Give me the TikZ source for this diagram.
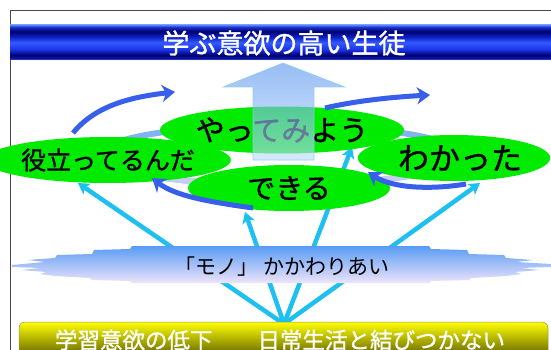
\documentclass[tikz,border=0pt]{standalone}
\usepackage{fontspec}
\newfontfamily\jp{Noto Sans CJK JP}
\newfontfamily\jpb[FakeBold=1.2]{Noto Sans CJK JP}
\usetikzlibrary{shapes.geometric,arrows.meta}
\definecolor{framegray}{RGB}{70,70,70}
\definecolor{bubgreen}{RGB}{0,235,0}
\definecolor{cyanline}{RGB}{30,192,242}
\definecolor{royal}{RGB}{55,95,235}
\definecolor{ringblue}{RGB}{130,178,242}
\definecolor{ringlav}{RGB}{200,204,242}
\definecolor{cloudtop}{RGB}{88,155,245}
\definecolor{cloudbot}{RGB}{238,228,250}
\definecolor{baryellow}{RGB}{255,255,0}
\definecolor{barolive}{RGB}{70,70,0}
\definecolor{uptop}{RGB}{90,150,240}
\definecolor{upbot}{RGB}{190,222,250}
\definecolor{upedge}{RGB}{140,205,245}
\pgfdeclareverticalshading{bannershade}{100bp}{rgb(0bp)=(0.3,0.4,0.9); rgb(25bp)=(0.3,0.4,0.9); rgb(27bp)=(0.05,0.1,0.65); rgb(32bp)=(0,0,0.45); rgb(40bp)=(0.1,0.2,0.9); rgb(50bp)=(0.2,0.35,1); rgb(58bp)=(0.05,0.12,0.75); rgb(66bp)=(0,0,0.45); rgb(72bp)=(0.1,0.2,0.8); rgb(75bp)=(0.35,0.5,1); rgb(100bp)=(0.35,0.5,1)}
\begin{document}
\begin{tikzpicture}[x=1pt,y=-1pt,
  frameline/.style={draw=framegray,line width=1pt},
  bub/.style={ellipse,fill=bubgreen,inner sep=0pt,text=black},
  cyanarrow/.style={draw=cyanline,line width=4.5pt,-{Stealth[length=11pt,width=13pt,inset=3pt]}},
  bluearrow/.style={draw=royal,line width=5pt,-{Stealth[length=13pt,width=17pt,inset=4pt]}},
  ringstyle/.style={line width=6pt}
]
\useasboundingbox (0,0) rectangle (551,350);
\clip (0,0) rectangle (551,350);
\fill[white] (0,0) rectangle (551,350);
% frame
\draw[frameline] (10,350) -- (10,11) -- (551,11);
% banner
\shade[shading=bannershade] (10,25) rectangle (551,60);
\node[text=white,font=\jpb\fontsize{27}{27}\selectfont] (title) at (284,43) {学ぶ意欲の高い生徒};
% cyan arrows
\coordinate (base) at (284,324);
\coordinate (t1) at (78,183);
\coordinate (t2) at (245,212);
\coordinate (t3) at (352,147);
\coordinate (t4) at (480,183);
\draw[cyanarrow] (base) -- (t1);
\draw[cyanarrow] (base) -- (t2);
\draw[cyanarrow] (base) -- (t3);
\draw[cyanarrow] (base) -- (t4);
% cloud band
\shade[top color=cloudtop,bottom color=cloudbot]
 (12,265) -- (45,262) -- (28,260) -- (55,258) -- (57,255) -- (92,254) -- (94,250) -- (130,249) -- (132,246) -- (429,246) -- (431,249) -- (467,250) -- (469,254) -- (504,255) -- (506,258) -- (533,260) -- (516,262) -- (551,264)
 -- (551,267) -- (520,268) -- (540,270) -- (515,272) -- (521,274) -- (506,276) -- (471,278) -- (469,280) -- (431,281) -- (429,283) -- (132,283) -- (130,281) -- (92,280) -- (90,278) -- (55,276) -- (40,274) -- (46,272) -- (21,270) -- (41,268) -- (12,267) -- cycle;
\node[text=black,font=\jp\fontsize{21}{21}\selectfont] (mono) at (282,267) {「モノ」 かかわりあい};
% bottom bar
\shade[rounded corners=6pt,top color=baryellow,bottom color=barolive,draw=barolive!60,line width=0.5pt] (19,322) rectangle (548,362);
\node[text=white,font=\jpb\fontsize{22.5}{22.5}\selectfont] (low) at (280,340) {学習意欲の低下　　日常生活と結びつかない};
% ring behind bubbles
\draw[ringstyle,draw=ringblue] (280,155) ellipse [x radius=180,y radius=30];
\draw[ringstyle,draw=ringlav] (460,155) arc[start angle=0,end angle=180,x radius=180,y radius=30];
% bubbles
\node[bub,minimum width=200pt,minimum height=46pt,font=\jpb\fontsize{25}{25}\selectfont] (yaku) at (108,160) {役立ってるんだ};
\node[bub,minimum width=190pt,minimum height=46pt,font=\jpb\fontsize{31}{31}\selectfont] (waka) at (454,158) {\hspace{12pt}わかった};
\node[bub,minimum width=198pt,minimum height=47pt,font=\jpb\fontsize{29}{29}\selectfont] (yatte) at (282,130) {やってみよう};
\node[bub,minimum width=202pt,minimum height=46pt,font=\jpb\fontsize{28}{28}\selectfont] (dekiru) at (289,188) {できる};
% big up arrow
\shade[top color=uptop,bottom color=upbot,fill opacity=0.62,draw=upedge,draw opacity=0.9,line width=0.6pt]
 (283,63) -- (345,87) -- (314,87) -- (314,160) -- (253,160) -- (253,87) -- (223,87) -- cycle;
% dark blue curved arrows
\coordinate (a1s) at (73,133);
\coordinate (a1e) at (175,92);
\coordinate (a2s) at (325,108);
\coordinate (a2e) at (430,95);
\coordinate (a3s) at (466,184);
\coordinate (a3e) at (368,172);
\coordinate (a4s) at (253,208);
\coordinate (a4e) at (152,178);
\draw[bluearrow] (a1s) .. controls (95,106) and (130,97) .. (a1e);
\draw[bluearrow] (a2s) .. controls (360,100) and (395,97) .. (a2e);
\draw[bluearrow] (a3s) .. controls (430,190) and (392,188) .. (a3e);
\draw[bluearrow] (a4s) .. controls (210,202) and (175,196) .. (a4e);
\end{tikzpicture}
\end{document}
